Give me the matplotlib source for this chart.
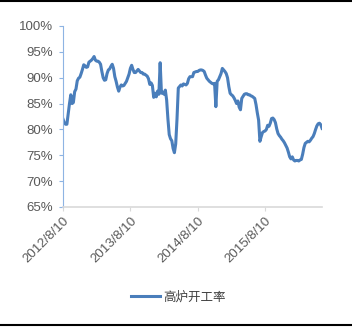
import matplotlib.pyplot as plt
import matplotlib.lines as mlines
import numpy as np

# weekly blast furnace operating rate (%), from 2012/8/10
rate = [
    82.0, 81.3, 81.0, 81.0, 83.0, 85.0, 86.7, 85.0, 85.2, 87.3,
    87.8, 89.4, 89.9, 90.1, 90.8, 91.6, 92.5, 92.3, 92.0, 92.1,
    93.0, 93.2, 93.4, 93.7, 94.1, 93.4, 93.2, 93.2, 93.0, 92.6,
    91.2, 90.0, 89.5, 89.6, 90.8, 91.5, 91.7, 92.2, 92.6, 91.8,
    90.2, 89.3, 88.2, 87.4, 88.2, 88.6, 88.4, 88.5, 88.9, 89.3,
    90.0, 90.7, 91.8, 92.4, 91.6, 91.0, 91.0, 91.3, 91.6, 91.3,
    91.0, 91.0, 90.7, 90.7, 90.5, 90.3, 89.8, 88.7, 89.0, 88.5,
    86.2, 87.0, 86.3, 87.4, 86.8, 92.9, 87.0, 87.2, 86.8, 87.6,
    85.7, 82.0, 79.0, 78.2, 77.8, 76.3, 75.5, 77.2, 82.0, 88.0,
    88.3, 88.6, 88.4, 88.8, 88.7, 88.6, 88.9, 89.8, 90.2, 90.2,
    90.2, 91.0, 91.1, 91.2, 91.2, 91.4, 91.5, 91.5, 91.4, 91.2,
    90.5, 89.9, 89.6, 89.3, 89.1, 88.9, 88.8, 88.9, 84.4, 89.3,
    89.6, 90.2, 90.8, 91.8, 91.5, 91.2, 90.8, 90.0, 88.3, 87.0,
    86.7, 86.5, 86.1, 85.6, 85.0, 85.5, 84.3, 83.8, 86.0, 86.4,
    86.8, 86.9, 86.9, 86.7, 86.7, 86.5, 86.4, 86.2, 86.0, 84.8,
    83.2, 81.8, 77.7, 78.6, 79.4, 79.6, 79.7, 80.0, 80.8, 80.6,
    81.2, 82.1, 82.2, 81.9, 81.3, 80.1, 79.2, 78.8, 78.5, 78.1,
    77.8, 77.4, 76.9, 76.4, 75.6, 74.7, 74.3, 74.7, 74.1, 73.9,
    74.0, 74.0, 73.9, 74.1, 74.2, 75.2, 76.5, 77.3, 77.5, 77.7,
    77.6, 77.9, 78.3, 78.6, 79.2, 80.0, 80.7, 81.1, 81.2, 80.9,
    80.2,
]
tick_pos = [0, 52, 104, 156]
tick_labels = ["2012/8/10", "2013/8/10", "2014/8/10", "2015/8/10"]
y_ticks = [65, 70, 75, 80, 85, 90, 95, 100]
series_name = "高炉开工率"

plt.rcParams['font.family'] = ['Liberation Sans', 'DejaVu Sans']
grey = '#595959'

fig = plt.figure(figsize=(3.52, 3.27), dpi=100)
ax = fig.add_axes([0.179, 0.367, 0.736, 0.5535])

x = np.arange(len(rate))
ax.plot(x, rate, color='#4A7EBB', lw=2.2, solid_joinstyle='round',
        label=series_name)

ax.set_xlim(0, len(rate) - 1)
ax.set_ylim(65, 100)
ax.set_yticks(y_ticks)
ax.set_yticklabels([f"{v}%" for v in y_ticks], fontsize=9.5, color=grey)
ax.set_xticks(tick_pos)
ax.set_xticklabels(tick_labels, fontsize=9.5, color=grey, rotation=45,
                   ha='right', va='top', rotation_mode='anchor')

for s in ['top', 'right']:
    ax.spines[s].set_visible(False)
ax.spines['left'].set_color('#8EB4E3')
ax.spines['bottom'].set_color('#D9D9D9')
ax.spines['bottom'].set_linewidth(1.2)
ax.tick_params(axis='y', colors='#8EB4E3', labelcolor=grey, length=3, pad=4)
ax.tick_params(axis='x', colors='#D9D9D9', labelcolor=grey, length=3, pad=3)

leg = fig.legend(loc='center', bbox_to_anchor=(0.507, 0.092), frameon=False,
                 handlelength=2.3, handletextpad=0.3,
                 prop={'family': ['Noto Sans CJK SC', 'DejaVu Sans'], 'size': 9})
for t in leg.get_texts():
    t.set_color('#404040')

# black frame lines at top and bottom of the picture
fig.add_artist(mlines.Line2D([0, 1], [0.998, 0.998], color='black', lw=1.5,
                             transform=fig.transFigure))
fig.add_artist(mlines.Line2D([0, 1], [0.005, 0.005], color='black', lw=1.5,
                             transform=fig.transFigure))

fig.savefig('out.png', dpi=100)
